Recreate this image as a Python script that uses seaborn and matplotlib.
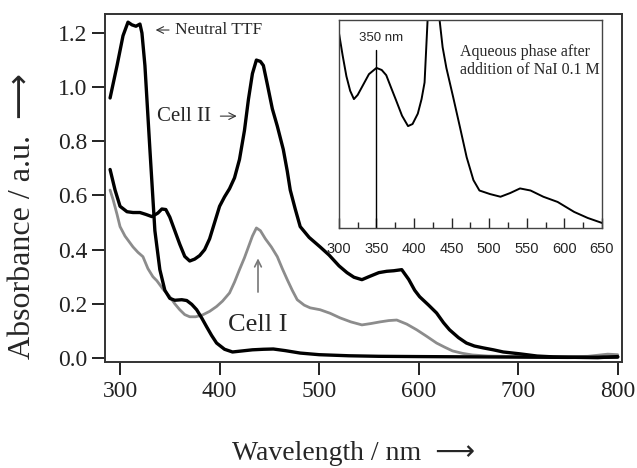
import numpy as np
import pandas as pd
import matplotlib
matplotlib.use("Agg")
import matplotlib.pyplot as plt
import seaborn as sns
from matplotlib.ticker import MultipleLocator

# Datos (longitud de onda en nm, absorbancia)
ttf_nm = [290, 297, 303, 308, 312, 316, 320, 322, 325, 330, 335, 340, 345, 350, 355,
          362, 367, 372, 377, 382, 387, 392, 397, 405, 413, 423, 433, 444, 454, 466,
          481, 500, 530, 560, 600, 650, 700, 750, 800]
ttf_abs = [0.96, 1.08, 1.19, 1.24, 1.23, 1.225, 1.233, 1.20, 1.08, 0.77, 0.47, 0.326,
           0.25, 0.22, 0.213, 0.215, 0.212, 0.198, 0.178, 0.148, 0.115, 0.083, 0.055,
           0.032, 0.022, 0.026, 0.03, 0.032, 0.033, 0.027, 0.018, 0.012, 0.008, 0.006,
           0.005, 0.004, 0.003, 0.002, 0.003]

cell2_nm = [290, 295, 300, 307, 313, 320, 326, 332, 338, 342, 346, 350, 355, 360, 365,
            370, 375, 380, 385, 390, 395, 400, 405, 410, 415, 420, 425, 429, 433, 437,
            441, 444, 448, 453, 458, 464, 468, 471, 476, 481, 490, 501, 510, 520, 528,
            535, 543, 550, 560, 568, 575, 583, 590, 596, 601, 610, 618, 625, 631, 640,
            648, 656, 665, 675, 685, 702, 719, 735, 760, 780, 800]
cell2_abs = [0.696, 0.62, 0.56, 0.54, 0.537, 0.537, 0.53, 0.522, 0.535, 0.55, 0.548,
             0.52, 0.47, 0.42, 0.375, 0.358, 0.365, 0.378, 0.40, 0.44, 0.50, 0.56,
             0.595, 0.625, 0.665, 0.733, 0.84, 0.955, 1.05, 1.10, 1.095, 1.08, 1.01,
             0.92, 0.856, 0.77, 0.69, 0.62, 0.55, 0.485, 0.445, 0.41, 0.38, 0.34, 0.315,
             0.298, 0.289, 0.30, 0.315, 0.32, 0.322, 0.326, 0.29, 0.25, 0.226, 0.195,
             0.166, 0.13, 0.104, 0.075, 0.055, 0.044, 0.037, 0.03, 0.022, 0.015, 0.007,
             0.004, 0.002, 0.001, 0.005]

cell1_nm = [290, 293, 297, 300, 305, 313, 318, 323, 328, 333, 337, 343, 350, 355, 360,
            365, 370, 376, 383, 390, 397, 403, 410, 415, 420, 425, 429, 433, 437, 441,
            446, 452, 458, 463, 468, 473, 478, 485, 491, 501, 511, 521, 532, 543, 552,
            561, 570, 578, 588, 598, 608, 618, 626, 634, 644, 654, 670, 700, 740, 770,
            790, 800]
cell1_abs = [0.62, 0.585, 0.53, 0.485, 0.45, 0.41, 0.39, 0.374, 0.33, 0.30, 0.285,
             0.255, 0.226, 0.20, 0.178, 0.16, 0.152, 0.152, 0.159, 0.172, 0.19, 0.21,
             0.24, 0.28, 0.326, 0.37, 0.41, 0.45, 0.48, 0.47, 0.44, 0.41, 0.374, 0.33,
             0.289, 0.25, 0.215, 0.195, 0.185, 0.178, 0.165, 0.148, 0.133, 0.122, 0.127,
             0.133, 0.138, 0.14, 0.125, 0.104, 0.08, 0.055, 0.04, 0.026, 0.017, 0.011,
             0.007, 0.005, 0.004, 0.006, 0.014, 0.012]

# Recuadro: fase acuosa tras NaI 0.1 M (escala relativa)
aq_nm = [300, 305, 310, 315, 320, 325, 331, 340, 350, 357, 363, 370, 376, 384, 392,
         398, 405, 410, 414, 418, 422, 426, 430, 434, 438, 443, 452, 461, 470, 479,
         487, 501, 515, 528, 541, 555, 572, 591, 613, 631, 650]
aq_abs = [0.94, 0.83, 0.73, 0.66, 0.62, 0.64, 0.68, 0.74, 0.77, 0.76, 0.735, 0.67,
          0.615, 0.54, 0.49, 0.50, 0.55, 0.62, 0.70, 1.0, 1.25, 1.35, 1.25, 1.0, 0.87,
          0.77, 0.63, 0.486, 0.34, 0.23, 0.18, 0.163, 0.15, 0.168, 0.19, 0.18, 0.15,
          0.125, 0.077, 0.048, 0.024]

sns.set_theme(style="ticks")
plt.rcParams['font.family'] = ['Liberation Serif', 'DejaVu Sans']

df_ttf = pd.DataFrame({'nm': ttf_nm, 'abs': ttf_abs})
df_c2 = pd.DataFrame({'nm': cell2_nm, 'abs': cell2_abs})
df_c1 = pd.DataFrame({'nm': cell1_nm, 'abs': cell1_abs})
df_aq = pd.DataFrame({'nm': aq_nm, 'abs': aq_abs})

fig = plt.figure(figsize=(6.37, 4.68), dpi=100)
ax = fig.add_axes([0.165, 0.2265, 0.811, 0.7435])

sns.lineplot(data=df_c1, x='nm', y='abs', ax=ax, color='#8c8c8c', lw=2.0)
sns.lineplot(data=df_ttf, x='nm', y='abs', ax=ax, color='black', lw=2.4)
sns.lineplot(data=df_c2, x='nm', y='abs', ax=ax, color='black', lw=2.4)

ax.set_xlim(285, 804)
ax.set_ylim(-0.015, 1.27)
ax.set_xticks([300, 400, 500, 600, 700, 800])
ax.set_yticks([0.0, 0.2, 0.4, 0.6, 0.8, 1.0, 1.2])
ax.set_yticklabels(['0.0', '0.2', '0.4', '0.6', '0.8', '1.0', '1.2'])
ax.tick_params(direction='out', length=9.5, width=1.4, labelsize=17, colors='#222222')
ax.tick_params(axis='x', pad=4)
ax.tick_params(axis='y', pad=3)
for s in ax.spines.values():
    s.set_linewidth(1.4)
    s.set_color('#333333')
ax.set_xlabel('Wavelength / nm  \u27f6', fontsize=20)
ax.set_ylabel('Absorbance / a.u.  \u27f6', fontsize=23)
ax.xaxis.set_label_coords(0.48, -0.228)
ax.yaxis.set_label_coords(-0.132, 0.42)

# Anotaciones
ax.annotate('', xy=(333, 1.211), xytext=(352, 1.211),
            arrowprops=dict(arrowstyle='->', lw=0.8, color='#333333'))
ax.text(355, 1.211, 'Neutral TTF', fontsize=12.5, va='center', ha='left')
ax.text(337, 0.893, 'Cell II', fontsize=15, va='center', ha='left')
ax.annotate('', xy=(420, 0.893), xytext=(398, 0.893),
            arrowprops=dict(arrowstyle='->', lw=0.8, color='#333333'))
ax.text(408, 0.122, 'Cell I', fontsize=19, va='center', ha='left')
ax.annotate('', xy=(438.6, 0.378), xytext=(438.6, 0.233),
            arrowprops=dict(arrowstyle='->', lw=1.2, color='#777777'))

# Recuadro
ins = fig.add_axes([0.532, 0.513, 0.413, 0.444])
sns.lineplot(data=df_aq, x='nm', y='abs', ax=ins, color='black', lw=1.4)
ins.set_xlim(300, 650)
ins.set_ylim(0, 1)
ins.set_xlabel('')
ins.set_ylabel('')
ins.set_yticks([])
ins.xaxis.set_major_locator(MultipleLocator(50))
ins.xaxis.set_minor_locator(MultipleLocator(25))
ins.tick_params(axis='x', which='major', direction='in', length=7, width=1,
                labelsize=10.5, pad=10)
ins.tick_params(axis='x', which='minor', direction='in', length=4, width=1)
for lab in ins.get_xticklabels():
    lab.set_family('Liberation Sans')
for s in ins.spines.values():
    s.set_linewidth(1.0)
    s.set_color('#444444')
ins.plot([350, 350], [0, 0.856], color='black', lw=1.0)
ins.text(356, 0.913, '350 nm', fontsize=9.5, family='Liberation Sans',
         ha='center', va='center')
ins.text(461, 0.885, 'Aqueous phase after\naddition of NaI 0.1 M', fontsize=11.5,
         ha='left', va='top')

fig.savefig('out.png', dpi=100)
